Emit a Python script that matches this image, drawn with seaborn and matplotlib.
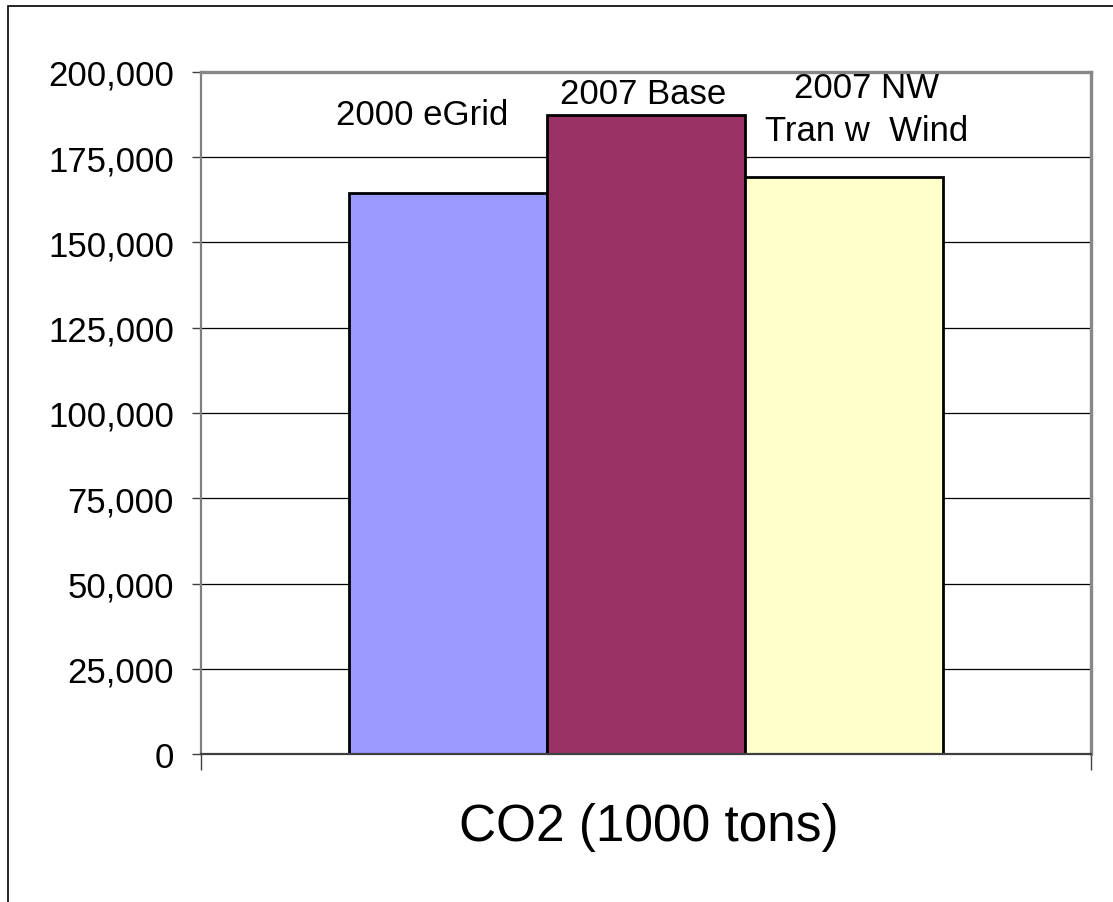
import matplotlib
matplotlib.use("Agg")
import matplotlib.pyplot as plt
from matplotlib.patches import Rectangle
from matplotlib.ticker import FuncFormatter, MultipleLocator
import seaborn as sns
import pandas as pd

# CO2 emissions by scenario (1000 tons)
category = ["CO2 (1000 tons)"]
series = ["2000 eGrid", "2007 Base", "2007 NW\nTran w  Wind"]
values = [164600, 187400, 169200]
colors = ["#9999FF", "#993366", "#FFFFCC"]

# label offsets from each bar's top centre, in pixels
label_dx = [-26, -3, 22]
label_dy = [78, 21, 68]

df = pd.DataFrame({"cat": category * len(series), "series": series, "value": values})

sns.set_theme(style="white")
plt.rcParams["font.family"] = ["Liberation Sans", "DejaVu Sans"]
plt.rcParams["text.color"] = "black"
plt.rcParams["ytick.labelcolor"] = "black"

DPI = 100
fig = plt.figure(figsize=(1113 / DPI, 903 / DPI), dpi=DPI)
ax = fig.add_axes([201 / 1113, 1 - 755 / 903, 890 / 1113, 682 / 903])

sns.barplot(data=df, x="cat", y="value", hue="series", hue_order=series,
            palette=colors, width=0.668, edgecolor="black", linewidth=2.0,
            saturation=1, legend=False, ax=ax)

ax.set_xlim(-0.5, 0.5)
ax.set_ylim(0, 200000)
ax.yaxis.set_major_locator(MultipleLocator(25000))
ax.yaxis.set_major_formatter(FuncFormatter(lambda v, p: f"{int(v):,}"))
ax.grid(axis="y", color="black", linewidth=0.9)
ax.set_axisbelow(True)

# frame of the plot area
ax.spines["top"].set_color("#888888")
ax.spines["top"].set_linewidth(2.4)
ax.spines["right"].set_color("#888888")
ax.spines["right"].set_linewidth(2.4)
ax.spines["left"].set_color("#808080")
ax.spines["left"].set_linewidth(1.6)
ax.spines["bottom"].set_color("#404040")
ax.spines["bottom"].set_linewidth(1.6)
for s in ax.spines.values():
    s.set_visible(True)

ax.tick_params(axis="y", which="major", direction="out", length=6.5, width=1,
               color="#404040", pad=13, labelsize=25, labelcolor="black", left=True)
ax.set_xticks([-0.5, 0.5])
ax.set_xticklabels(["", ""])
ax.tick_params(axis="x", which="major", direction="out", length=11.5, width=1,
               color="#404040", bottom=True)
ax.set_ylabel("")
ax.set_xlabel("")

fig.text(649 / 1113, 1 - 828 / 903, category[0], ha="center", va="center",
         fontsize=37, color="black")

# series names above the bars
bars = [p for p in ax.patches if p.get_height() > 0]
bars.sort(key=lambda p: p.get_x())
for p, name, dx, dy in zip(bars, series, label_dx, label_dy):
    ax.annotate(name, xy=(p.get_x() + p.get_width() / 2, p.get_height()),
                xytext=(dx * 0.72, dy * 0.72), textcoords="offset points",
                ha="center", va="center", fontsize=25, linespacing=1.4,
                color="black", annotation_clip=False)

# outer chart border
fig.patches.append(Rectangle((8 / 1113, -0.05), 1.1, 1 - 7 / 903 + 0.05,
                             transform=fig.transFigure, fill=False,
                             edgecolor="black", linewidth=1.2))

fig.savefig("out.png", dpi=DPI)
